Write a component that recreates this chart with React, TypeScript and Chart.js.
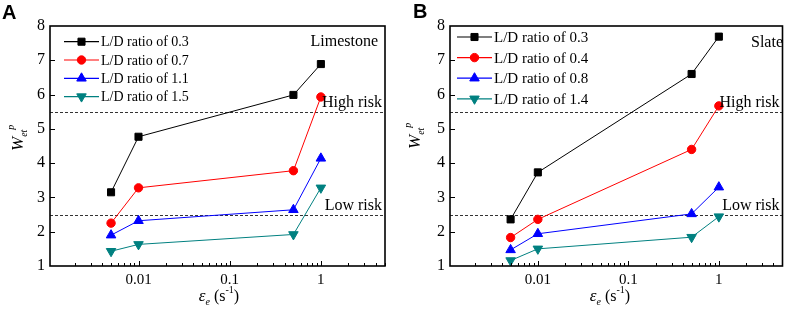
import React, { useEffect, useRef } from "react";
import { Chart, registerables } from "chart.js";
Chart.register(...registerables);

// ---------- data ----------
const strainRates = [0.005, 0.01, 0.5, 1];

const limestoneLabels = ["L/D ratio of 0.3", "L/D ratio of 0.7", "L/D ratio of 1.1", "L/D ratio of 1.5"];
const limestone03 = [3.15, 4.77, 5.99, 6.89];
const limestone07 = [2.25, 3.28, 3.78, 5.93];
const limestone11 = [1.9, 2.32, 2.64, 4.14];
const limestone15 = [1.43, 1.63, 1.92, 3.28];

const slateLabels = ["L/D ratio of 0.3", "L/D ratio of 0.4", "L/D ratio of 0.8", "L/D ratio of 1.4"];
const slate03 = [2.36, 3.73, 6.6, 7.69];
const slate04 = [1.83, 2.36, 4.4, 5.67];
const slate08 = [1.47, 1.94, 2.52, 3.3];
const slate14 = [1.16, 1.5, 1.84, 2.44];

const riskLevels = [5.5, 2.5];
const riskLabels = ["High risk", "Low risk"];
const xTickLabels = [0.01, 0.1, 1];
const yMin = 1;
const yMax = 8;
const xMin = 0.00107;
const xMax = 5.05;

// ---------- styles ----------
const SERIF = '"Liberation Serif", "Times New Roman", serif';
const colors = ["#000000", "#ff0000", "#0000ff", "#008080"];
const markers = [
  { style: "rect", rotation: 0, radius: 5 },
  { style: "circle", rotation: 0, radius: 4.2 },
  { style: "triangle", rotation: 0, radius: 5.5 },
  { style: "triangle", rotation: 180, radius: 5.5 },
];

function drawMarker(ctx: CanvasRenderingContext2D, m: any, x: number, y: number, color: string) {
  ctx.save();
  ctx.fillStyle = color;
  ctx.strokeStyle = color;
  ctx.lineWidth = 1;
  ctx.beginPath();
  if (m.style === "rect") {
    const s = Math.SQRT1_2 * m.radius;
    ctx.rect(x - s, y - s, 2 * s, 2 * s);
  } else if (m.style === "circle") {
    ctx.arc(x, y, m.radius, 0, Math.PI * 2);
  } else {
    let rad = (m.rotation * Math.PI) / 180;
    const r = m.radius;
    ctx.moveTo(x + Math.sin(rad) * r, y - Math.cos(rad) * r);
    rad += (2 * Math.PI) / 3;
    ctx.lineTo(x + Math.sin(rad) * r, y - Math.cos(rad) * r);
    rad += (2 * Math.PI) / 3;
    ctx.lineTo(x + Math.sin(rad) * r, y - Math.cos(rad) * r);
    ctx.closePath();
  }
  ctx.fill();
  ctx.stroke();
  ctx.restore();
}

type PanelProps = {
  left: number;
  width: number;
  plotLeft: number;
  padRight: number;
  letter: string;
  letterX: number;
  letterBaseline: number;
  rockName: string;
  rockRight: number;
  rockBaseline: number;
  labels: string[];
  series: number[][];
  legendLineX: number;
  legendTop: number;
  legendSpacing: number;
  legendFont: number;
  xTitleCenter: number;
  yTitleX: number;
  yTitleY: number;
};

function Panel(p: PanelProps) {
  const ref = useRef<HTMLCanvasElement>(null);
  useEffect(() => {
    const decor = {
      id: "decor",
      beforeDatasetsDraw(chart: any) {
        const { ctx, chartArea, scales } = chart;
        const { left, right } = chartArea;
        ctx.save();
        ctx.strokeStyle = "#333";
        ctx.lineWidth = 1;
        ctx.setLineDash([3, 2]);
        riskLevels.forEach((v) => {
          const py = Math.round(scales.y.getPixelForValue(v)) + 0.5;
          ctx.beginPath();
          ctx.moveTo(left, py);
          ctx.lineTo(right, py);
          ctx.stroke();
        });
        ctx.restore();
      },
      afterDraw(chart: any) {
        const { ctx, chartArea, scales } = chart;
        const { left, right, top, bottom } = chartArea;
        ctx.save();
        // frame
        ctx.strokeStyle = "#000";
        ctx.lineWidth = 1.6;
        ctx.strokeRect(left, top, right - left, bottom - top);
        // x ticks (inward)
        ctx.lineWidth = 1;
        for (let e = -4; e <= 1; e++) {
          for (let m = 1; m <= 9; m++) {
            const v = m * Math.pow(10, e);
            if (v < xMin || v > xMax) continue;
            const px = Math.round(scales.x.getPixelForValue(v)) + 0.5;
            const len = m === 1 ? 5 : 3;
            ctx.beginPath();
            ctx.moveTo(px, bottom);
            ctx.lineTo(px, bottom - len);
            ctx.stroke();
          }
        }
        // y ticks (inward)
        for (let v = yMin + 1; v < yMax; v++) {
          const py = Math.round(scales.y.getPixelForValue(v)) + 0.5;
          ctx.beginPath();
          ctx.moveTo(left, py);
          ctx.lineTo(left + 5, py);
          ctx.stroke();
        }
        // legend
        ctx.font = `${p.legendFont}px ${SERIF}`;
        ctx.textBaseline = "middle";
        ctx.textAlign = "left";
        p.labels.forEach((lab, i) => {
          const ly = p.legendTop + i * p.legendSpacing;
          ctx.strokeStyle = colors[i];
          ctx.lineWidth = 1.2;
          ctx.beginPath();
          ctx.moveTo(p.legendLineX, ly);
          ctx.lineTo(p.legendLineX + 35, ly);
          ctx.stroke();
          drawMarker(ctx, markers[i], p.legendLineX + 17.5, ly, colors[i]);
          ctx.fillStyle = "#000";
          ctx.fillText(lab, p.legendLineX + 37, ly + 1);
        });
        // rock name and risk labels
        ctx.fillStyle = "#000";
        ctx.font = `16px ${SERIF}`;
        ctx.textAlign = "right";
        ctx.textBaseline = "alphabetic";
        ctx.fillText(p.rockName, p.rockRight, p.rockBaseline);
        riskLevels.forEach((v, i) => {
          const py = scales.y.getPixelForValue(v);
          ctx.fillText(riskLabels[i], right - 3, py - 5);
        });
        // x title: ε_e (s^-1)
        const parts = [
          { t: "ε", f: `italic 17px ${SERIF}`, dy: 0 },
          { t: "e", f: `italic 10px ${SERIF}`, dy: 4 },
          { t: " (s", f: `16px ${SERIF}`, dy: 0 },
          { t: "-1", f: `10px ${SERIF}`, dy: -8 },
          { t: ")", f: `16px ${SERIF}`, dy: 0 },
        ];
        let total = 0;
        parts.forEach((pt) => {
          ctx.font = pt.f;
          total += ctx.measureText(pt.t).width;
        });
        let cx = p.xTitleCenter - total / 2;
        ctx.textAlign = "left";
        parts.forEach((pt) => {
          ctx.font = pt.f;
          ctx.fillText(pt.t, cx, 301 + pt.dy);
          cx += ctx.measureText(pt.t).width;
        });
        // y title: W_et^p rotated
        ctx.save();
        ctx.translate(p.yTitleX, p.yTitleY);
        ctx.rotate(-Math.PI / 2);
        ctx.font = `italic 17px ${SERIF}`;
        ctx.fillText("W", 0, 0);
        const w = ctx.measureText("W").width;
        ctx.font = `italic 10px ${SERIF}`;
        ctx.fillText("et", w, 4);
        ctx.fillText("p", w + 7, -9);
        ctx.restore();
        // panel letter
        ctx.font = `bold 20px "Liberation Sans", Arial, sans-serif`;
        ctx.textAlign = "left";
        ctx.fillText(p.letter, p.letterX, p.letterBaseline);
        ctx.restore();
      },
    };

    const chart = new Chart(ref.current as HTMLCanvasElement, {
      type: "line",
      data: {
        datasets: p.series.map((vals, i) => ({
          label: p.labels[i],
          data: strainRates.map((x, j) => ({ x, y: vals[j] })),
          borderColor: colors[i],
          backgroundColor: colors[i],
          borderWidth: 1,
          pointStyle: markers[i].style as any,
          pointRotation: markers[i].rotation,
          pointRadius: markers[i].radius,
          pointBorderWidth: 1,
          pointBorderColor: colors[i],
          pointBackgroundColor: colors[i],
          tension: 0,
        })),
      },
      options: {
        animation: false,
        responsive: false,
        maintainAspectRatio: false,
        devicePixelRatio: 1,
        layout: { padding: { left: 0, right: p.padRight, top: 26, bottom: 0 } },
        plugins: { legend: { display: false }, tooltip: { enabled: false } },
        scales: {
          x: {
            type: "logarithmic",
            min: xMin,
            max: xMax,
            grid: { display: false, drawTicks: false },
            border: { display: false },
            afterBuildTicks: (s: any) => {
              s.ticks = xTickLabels.map((v) => ({ value: v }));
            },
            ticks: {
              autoSkip: false,
              maxRotation: 0,
              padding: 5,
              color: "#000",
              font: { family: SERIF, size: 15 },
              callback: (v: any) => String(v),
            },
            afterFit: (s: any) => {
              s.height = 44;
            },
          },
          y: {
            type: "linear",
            min: yMin,
            max: yMax,
            grid: { display: false, drawTicks: false },
            border: { display: false },
            ticks: {
              stepSize: 1,
              padding: 5,
              color: "#000",
              font: { family: SERIF, size: 16 },
            },
            afterFit: (s: any) => {
              s.width = p.plotLeft;
            },
          },
        },
      },
      plugins: [decor],
    } as any);
    return () => chart.destroy();
  }, []);
  return (
    <canvas
      ref={ref}
      width={p.width}
      height={310}
      style={{ position: "absolute", left: p.left, top: 0, width: p.width, height: 310 }}
    />
  );
}

export default function App() {
  return (
    <div style={{ position: "absolute", left: 0, top: 0, width: 789, height: 310, background: "#fff" }}>
      <Panel
        left={0}
        width={395}
        plotLeft={50}
        padRight={10}
        letter="A"
        letterX={2}
        letterBaseline={19}
        rockName="Limestone"
        rockRight={378}
        rockBaseline={46}
        labels={limestoneLabels}
        series={[limestone03, limestone07, limestone11, limestone15]}
        legendLineX={64}
        legendTop={41.7}
        legendSpacing={18.3}
        legendFont={14}
        xTitleCenter={219}
        yTitleX={23}
        yTitleY={151}
      />
      <Panel
        left={395}
        width={394}
        plotLeft={55}
        padRight={2}
        letter="B"
        letterX={18}
        letterBaseline={18}
        rockName="Slate"
        rockRight={388}
        rockBaseline={47}
        labels={slateLabels}
        series={[slate03, slate04, slate08, slate14]}
        legendLineX={62}
        legendTop={37}
        legendSpacing={20.6}
        legendFont={15}
        xTitleCenter={215}
        yTitleX={25}
        yTitleY={149}
      />
    </div>
  );
}
